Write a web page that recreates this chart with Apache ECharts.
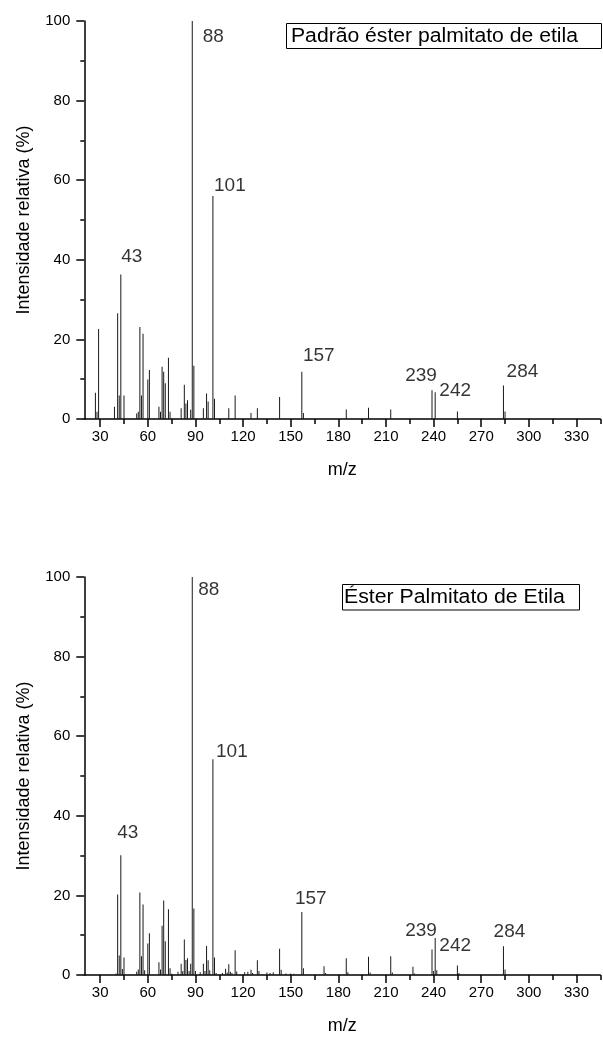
<!DOCTYPE html>
<html>
<head>
<meta charset="utf-8">
<script src="https://cdn.jsdelivr.net/npm/echarts@6/dist/echarts.min.js"></script>
<style>html,body{margin:0;padding:0;background:#fff}#c{width:603px;height:1039px}</style>
</head>
<body>
<div id="c"></div>
<script>
// ---- data ----
const topTitle = 'Padrão éster palmitato de etila';
const bottomTitle = 'Éster Palmitato de Etila';
const xName = 'm/z';
const yName = 'Intensidade relativa (%)';
const xMajorTicks = [30, 60, 90, 120, 150, 180, 210, 240, 270, 300, 330];
const xMinorTicks = [45, 75, 105, 135, 165, 195, 225, 255, 285, 315, 345];

const topMz  = [27, 28, 29, 39, 41, 42, 43, 45, 53, 54, 55, 56, 57, 60, 61, 67, 68, 69, 70, 71, 73, 74, 81, 83, 84, 85, 87, 88, 89, 95, 97, 98, 101, 102, 111, 115, 125, 129, 143, 157, 158, 185, 199, 213, 239, 241, 255, 284, 285];
const topInt = [6.6, 1.8, 22.6, 3.1, 26.6, 5.9, 36.3, 5.9, 1.4, 1.8, 23.1, 5.9, 21.4, 9.9, 12.3, 3.1, 1.8, 13.1, 11.9, 9.0, 15.4, 1.8, 2.7, 8.6, 3.9, 4.7, 2.3, 100, 13.4, 2.7, 6.4, 4.4, 56.0, 5.1, 2.7, 5.9, 1.5, 2.7, 5.5, 11.9, 1.5, 2.4, 2.8, 2.4, 7.2, 6.7, 1.9, 8.4, 1.9];

const botMz  = [40, 41, 42, 43, 44, 45, 53, 54, 55, 56, 57, 58, 60, 61, 67, 68, 69, 70, 71, 73, 74, 75, 79, 81, 82, 83, 84, 85, 86, 87, 88, 89, 90, 93, 95, 96, 97, 98, 99, 101, 102, 103, 107, 109, 110, 111, 112, 113, 115, 116, 121, 123, 125, 126, 129, 130, 135, 137, 139, 143, 144, 147, 150, 152, 157, 158, 171, 172, 185, 186, 199, 200, 213, 214, 227, 228, 239, 240, 241, 242, 255, 256, 284, 285];
const botInt = [0.4, 20.2, 4.9, 30.1, 1.5, 4.4, 0.8, 1.4, 20.7, 4.7, 17.7, 1.2, 7.9, 10.5, 3.2, 1.4, 12.4, 18.7, 8.5, 16.5, 1.7, 0.3, 0.8, 2.8, 1.0, 8.9, 3.8, 4.2, 1.0, 2.8, 100, 16.7, 1.0, 0.7, 2.8, 1.0, 7.3, 3.7, 1.2, 54.2, 4.4, 0.5, 0.5, 1.6, 0.6, 2.7, 0.8, 0.5, 6.2, 0.9, 0.7, 0.8, 1.3, 0.5, 3.7, 1.0, 0.6, 0.5, 0.7, 6.6, 1.3, 0.4, 0.4, 0.3, 15.8, 1.7, 2.2, 0.5, 4.2, 0.7, 4.6, 0.6, 4.7, 0.6, 2.1, 0.4, 6.4, 1.0, 9.3, 1.2, 2.4, 0.5, 7.2, 1.4];

// labelled peaks: which m/z bar carries each label, and the text shown
const topLabelMz   = [43, 88, 101, 157, 239, 241, 284];
const topLabelText = ['43', '88', '101', '157', '239', '242', '284'];
const botLabelMz   = [43, 88, 101, 157, 239, 241, 284];
const botLabelText = ['43', '88', '101', '157', '239', '242', '284'];

// ---- styling (pixel offsets of label centres from their peak tops) ----
const topLabelOffsets = [[11, -18], [21, 16], [17, -10], [17, -16], [-11, -15], [20, -2], [19, -14]];
const botLabelOffsets = [[7, -22], [16.5, 12.5], [19, -8], [9, -13], [-11, -19], [20, 7.5], [6, -15]];

const FONT = '"Liberation Sans", Arial, sans-serif';

function bars(mz, val) { return mz.map((m, i) => [m, val[i]]); }
function labels(lmz, ltext, offs, mz, val) {
  return lmz.map((m, i) => ({
    value: [m, val[mz.indexOf(m)]],
    name: ltext[i],
    label: { position: [offs[i][0] + 0.5, offs[i][1] + 0.5] }
  }));
}

const grids = [
  { left: 84.3, top: 21, width: 516, height: 398 },
  { left: 84.3, top: 577, width: 516, height: 398 }
];

function xAxes(gi) {
  return [
    {
      type: 'value', gridIndex: gi, min: 20, max: 345, position: 'bottom',
      name: xName, nameLocation: 'middle', nameGap: 42,
      nameTextStyle: { fontFamily: FONT, fontSize: 18, color: '#000' },
      axisLine: { show: true, onZero: false, lineStyle: { color: '#000', width: 1.5 } },
      axisTick: { show: true, inside: false, length: 8, customValues: xMajorTicks, lineStyle: { color: '#000', width: 1.5 } },
      axisLabel: { show: true, customValues: xMajorTicks, fontFamily: FONT, fontSize: 15, color: '#000', margin: 10 },
      splitLine: { show: false }
    },
    {
      type: 'value', gridIndex: gi, min: 20, max: 345, position: 'bottom',
      axisLine: { show: false, onZero: false },
      axisTick: { show: true, inside: false, length: 5, customValues: xMinorTicks, lineStyle: { color: '#000', width: 1.5 } },
      axisLabel: { show: false },
      splitLine: { show: false }
    }
  ];
}

function yAxis(gi) {
  return {
    type: 'value', gridIndex: gi, min: 0, max: 100, interval: 20, position: 'left',
    name: yName, nameLocation: 'middle', nameGap: 51, nameRotate: 90,
    nameTextStyle: { fontFamily: FONT, fontSize: 18, color: '#000' },
    axisLine: { show: true, onZero: false, lineStyle: { color: '#000', width: 1.5 } },
    axisTick: { show: true, length: 8, lineStyle: { color: '#000', width: 1.5 } },
    minorTick: { show: true, splitNumber: 2, length: 4, lineStyle: { color: '#000', width: 1.5 } },
    axisLabel: { fontFamily: FONT, fontSize: 15, color: '#000', margin: 14 },
    splitLine: { show: false }, minorSplitLine: { show: false }
  };
}

function barSeries(xi, yi, mz, val) {
  return {
    type: 'bar', xAxisIndex: xi, yAxisIndex: yi, data: bars(mz, val),
    barWidth: 1, itemStyle: { color: '#1a1a1a' }, silent: true, z: 2
  };
}
function labelSeries(xi, yi, data) {
  return {
    type: 'scatter', xAxisIndex: xi, yAxisIndex: yi, data: data,
    symbol: 'rect', symbolSize: 1, itemStyle: { color: 'rgba(0,0,0,0)' }, silent: true, z: 5,
    label: {
      show: true, align: 'center', verticalAlign: 'middle',
      formatter: '{b}', fontFamily: FONT, fontSize: 19, color: '#000',
      textBorderWidth: 0
    },
    labelLayout: { hideOverlap: false }
  };
}

const option = {
  animation: false,
  backgroundColor: '#fff',
  grid: grids,
  xAxis: [...xAxes(0), ...xAxes(1)],
  yAxis: [yAxis(0), yAxis(1)],
  series: [
    barSeries(0, 0, topMz, topInt),
    labelSeries(0, 0, labels(topLabelMz, topLabelText, topLabelOffsets, topMz, topInt)),
    barSeries(2, 1, botMz, botInt),
    labelSeries(2, 1, labels(botLabelMz, botLabelText, botLabelOffsets, botMz, botInt))
  ],
  graphic: [
    { type: 'rect', shape: { x: 286.5, y: 23.5, width: 315, height: 25 }, style: { fill: '#fff', stroke: '#000', lineWidth: 1 }, z: 10 },
    { type: 'text', x: 291, y: 36.5, scaleX: 1.085, style: { text: topTitle, font: '19.5px ' + FONT, fill: '#000', verticalAlign: 'middle' }, z: 11 },
    { type: 'rect', shape: { x: 342.5, y: 584.5, width: 237, height: 25.5 }, style: { fill: '#fff', stroke: '#000', lineWidth: 1 }, z: 10 },
    { type: 'text', x: 344, y: 597.5, scaleX: 1.09, style: { text: bottomTitle, font: '19.5px ' + FONT, fill: '#000', verticalAlign: 'middle' }, z: 11 }
  ]
};

const chart = echarts.init(document.getElementById('c'), null, { renderer: 'canvas' });
chart.setOption(option);
</script>
</body>
</html>
